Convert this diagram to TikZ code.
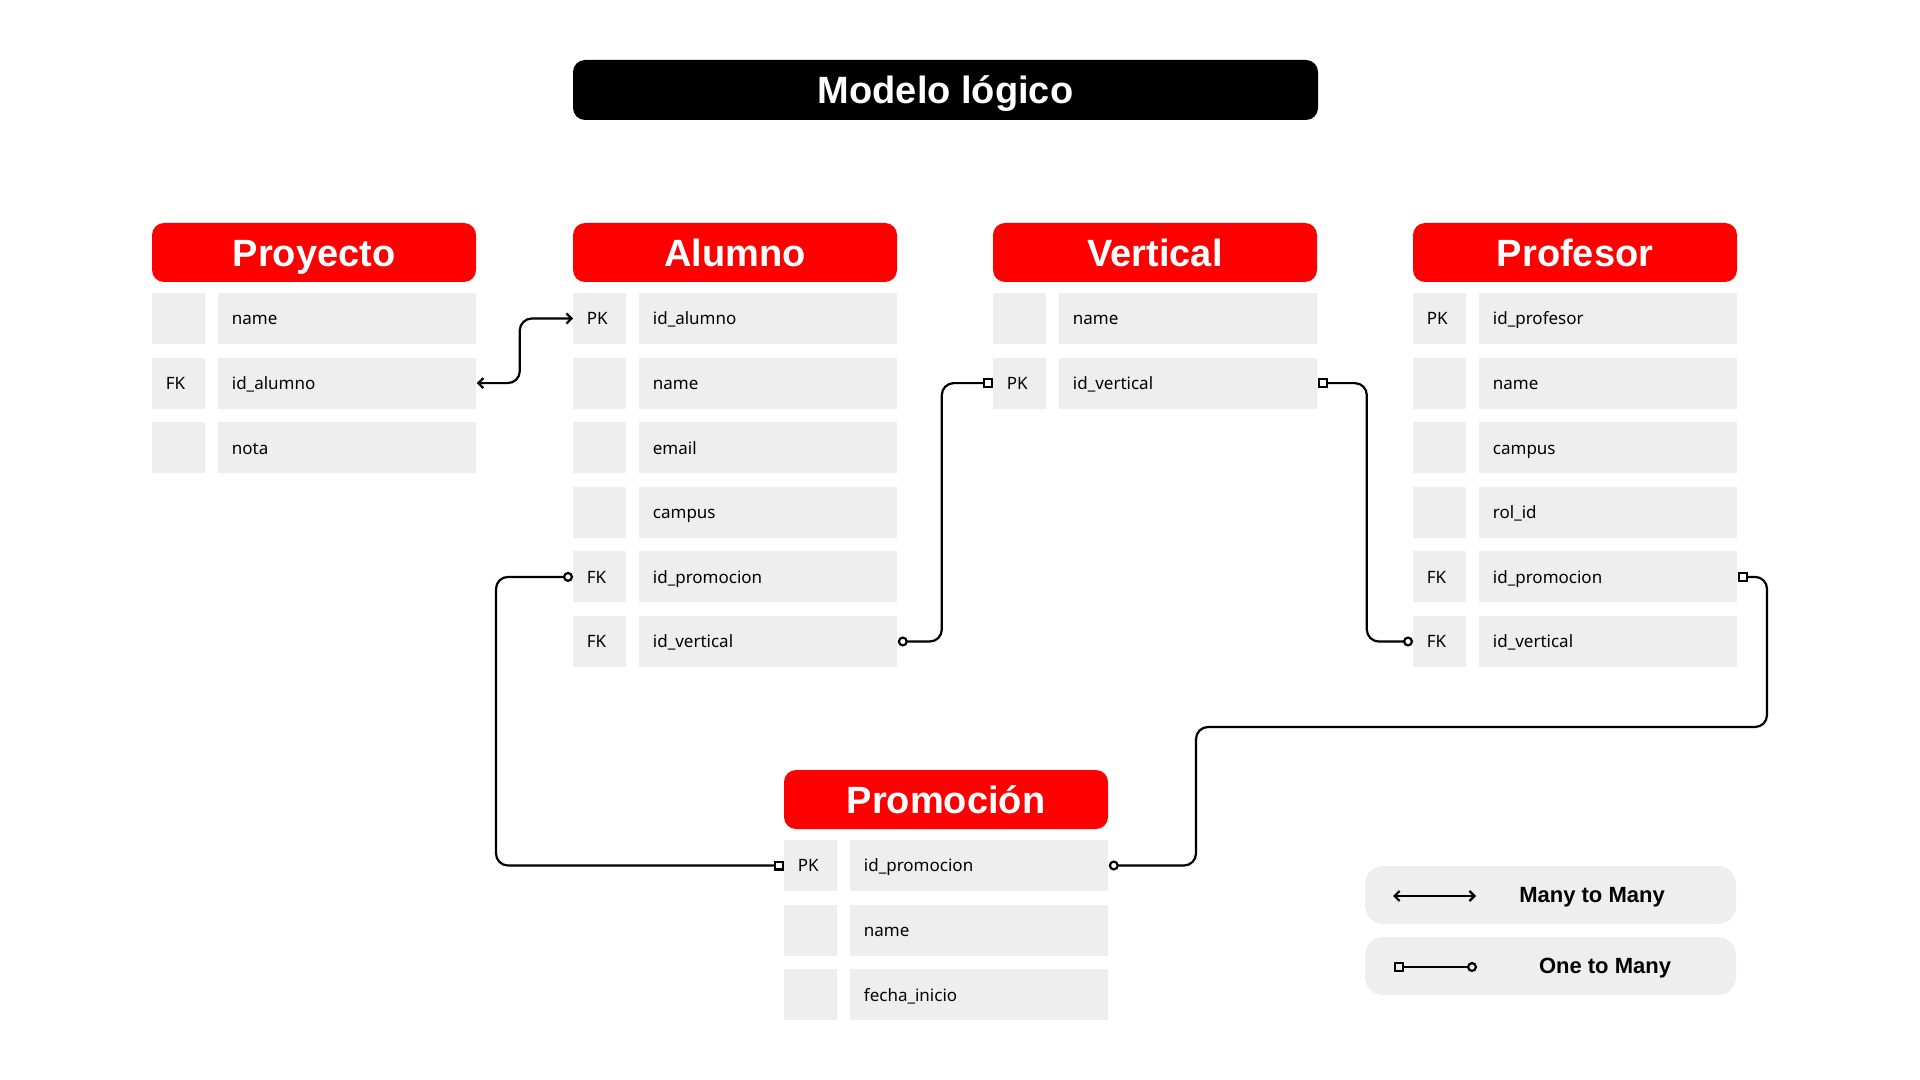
\documentclass[tikz,border=0pt]{standalone}
\usepackage{fontspec}
\setmainfont{Noto Sans}
\newfontfamily\headfont{Liberation Sans}
\usetikzlibrary{arrows.meta}
\definecolor{erred}{HTML}{FF0000}
\definecolor{cellgray}{HTML}{EEEEEE}
\tikzset{
  titlebox/.style={fill=black, text=white, rounded corners=6pt, minimum width=372.5pt, minimum height=30pt, inner sep=0pt, text height=13.7pt, text depth=0pt, font=\headfont\bfseries\fontsize{19}{22}\selectfont},
  hdr/.style={fill=erred, text=white, rounded corners=6pt, minimum width=162pt, minimum height=29.5pt, inner sep=0pt, text height=13.7pt, text depth=0pt, font=\headfont\bfseries\fontsize{19}{22}\selectfont},
  cellbase/.style={fill=cellgray, anchor=west, inner xsep=6.75pt, inner ysep=0pt, minimum height=25.5pt, align=left, text height=6.4pt, text depth=0pt, font=\fontsize{8.5}{10}\selectfont},
  keycell/.style={cellbase, text width=13pt},
  namecell/.style={cellbase, text width=115.5pt},
  legbox/.style={fill=cellgray, rounded corners=9pt, minimum width=185.5pt, minimum height=29pt, inner sep=0pt},
  legtext/.style={font=\headfont\bfseries\fontsize{11}{13}\selectfont, inner sep=0pt, text height=7.9pt, text depth=0pt},
  link/.style={line width=1.1pt, rounded corners=6pt},
  manymany/.style={link, {Straight Barb[length=2.5pt,width=5pt]}-{Straight Barb[length=2.5pt,width=5pt]}},
  fkpk/.style={link, {Circle[open,length=5pt,width=5pt]}-{Square[open,length=5pt,width=5pt]}},
  pkfk/.style={link, {Square[open,length=5pt,width=5pt]}-{Circle[open,length=5pt,width=5pt]}},
}
% #1 prefix, #2 left x, #3 header centre y, #4 title, #5 key/field rows
\newcommand\ertable[5]{%
  \node[hdr] (#1h) at ({#2+162},{#3}) {#4};
  \foreach \k/\f [count=\i] in {#5}{%
    \node[keycell] (#1k\i) at ({#2},{#3+66+64.6*(\i-1)}) {\k};
    \node[namecell] (#1n\i) at ({#2+66},{#3+66+64.6*(\i-1)}) {\f};
  }%
}
\begin{document}
\begin{tikzpicture}[x=0.5pt,y=-0.5pt]
\useasboundingbox (0,0) rectangle (1920,1080);

\node[titlebox] (ttl) at (945.5,90) {Modelo lógico};

\ertable{py}{152}{252.5}{Proyecto}{{}/name, FK/id\_alumno, {}/nota}
\ertable{al}{573}{252.5}{Alumno}{PK/id\_alumno, {}/name, {}/email, {}/campus, FK/id\_promocion, FK/id\_vertical}
\ertable{ve}{993}{252.5}{Vertical}{{}/name, PK/id\_vertical}
\ertable{pf}{1413}{252.5}{Profesor}{PK/id\_profesor, {}/name, {}/campus, {}/rol\_id, FK/id\_promocion, FK/id\_vertical}
\ertable{pr}{784}{799.5}{Promoción}{PK/id\_promocion, {}/name, {}/fecha\_inicio}

% relations
\draw[manymany] (pyn2.east) -- ++(43,0) |- (alk1.west);
\draw[fkpk] (aln6.east) -- ++(44,0) |- (vek2.west);
\draw[pkfk] (ven2.east) -- ++(49,0) |- (pfk6.west);
\draw[fkpk] (alk5.west) -- ++(-77,0) |- (prk1.west);
\coordinate (busR) at (1767,727);
\coordinate (busL) at (1196,727);
\draw[pkfk] (pfn5.east) -| (busR) -- (busL) |- (prn1.east);

% legend
\node[legbox] (lgmm) at (1550.5,895) {};
\node[legbox] (lgom) at (1550.5,966) {};
\node[legtext] (lgmmt) at (1592,895) {Many to Many};
\node[legtext] (lgomt) at (1605,966) {One to Many};
\coordinate (mmA) at (1393,896);
\coordinate (mmB) at (1476,896);
\draw[manymany] (mmA) -- (mmB);
\coordinate (omA) at (1394,967);
\coordinate (omB) at (1477,967);
\draw[pkfk] (omA) -- (omB);
\end{tikzpicture}
\end{document}
